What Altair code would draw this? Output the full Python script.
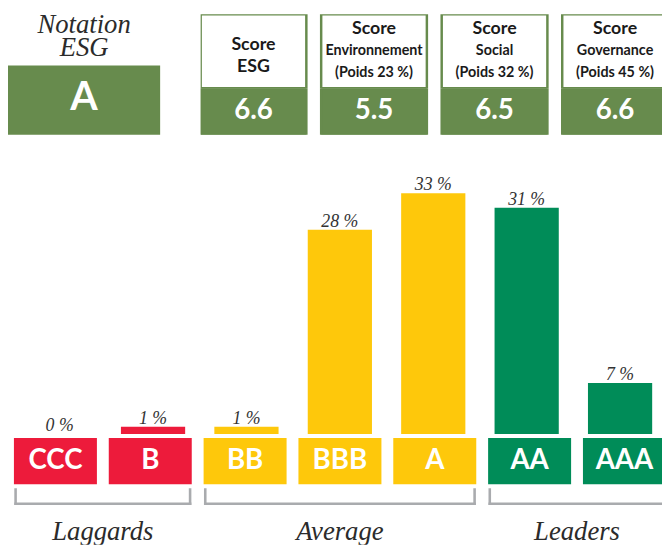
import altair as alt
import pandas as pd

# ---------------- data ----------------
categories = ["CCC", "B", "BB", "BBB", "A", "AA", "AAA"]
shares = [0, 1, 1, 28, 33, 31, 7]
category_group = ["Laggards", "Laggards", "Average", "Average", "Average", "Leaders", "Leaders"]
group_names = ["Laggards", "Average", "Leaders"]

rating_title = "Notation\nESG"
rating = "A"

score_keys = ["ESG", "E", "S", "G"]
score_lines = [
    ["Score", "ESG"],
    ["Score", "Environnement", "(Poids 23 %)"],
    ["Score", "Social", "(Poids 32 %)"],
    ["Score", "Governance", "(Poids 45 %)"],
]
score_big_lines = [2, 1, 1, 1]
score_values = ["6.6", "5.5", "6.5", "6.6"]

# ---------------- style ----------------
SERIF = "Liberation Serif"
SANS = "Lato"
HEADER_GREEN = "#678B4D"
group_colors = ["#ED1B3B", "#FEC80B", "#008C58"]
BRACKET_GREY = "#A9ABAE"
TEXT_DARK = "#2b2b2b"

# ---------------- tables ----------------
bars_df = pd.DataFrame({
    "cat": categories,
    "idx": list(range(len(categories))),
    "share": shares,
    "group": category_group,
    "label": [f"{s} %" for s in shares],
})

grp_rows = []
for g in group_names:
    ids = [i for i, c in enumerate(category_group) if c == g]
    grp_rows.append({"group": g, "first": min(ids), "last": max(ids)})
groups_df = pd.DataFrame(grp_rows)

line_rows = []
for key, lines, nbig in zip(score_keys, score_lines, score_big_lines):
    n = len(lines)
    for i, t in enumerate(lines):
        line_rows.append({"key": key, "text": t,
                          "pos": (n - 1) / 2 - i - (3 - n) * 0.2,
                          "big": i < nbig})
lines_df = pd.DataFrame(line_rows)
values_df = pd.DataFrame({"key": score_keys, "value": score_values})

# ---------------- header ----------------
rating_df = pd.DataFrame({"r": [rating], "t": [rating_title]})
notation_text = alt.Chart(rating_df).mark_text(
    font=SERIF, fontStyle="italic", fontSize=27, lineHeight=23, lineBreak="\n",
    color=TEXT_DARK, baseline="top",
).encode(text="t:N", y=alt.value(-2)).properties(width=154, height=52)

notation_box = alt.layer(
    alt.Chart(rating_df).mark_rect(fill=HEADER_GREEN).encode(color=alt.value(HEADER_GREEN)),
    alt.Chart(rating_df).mark_text(
        font=SANS, fontWeight="bold", fontSize=40, color="white", baseline="middle", dy=-2
    ).encode(text="r:N"),
).properties(width=154, height=70)

notation_col = alt.vconcat(notation_text, notation_box, spacing=0)

xs = alt.X("key:N", sort=score_keys, axis=None,
           scale=alt.Scale(domain=score_keys, range=[0, 473], paddingInner=0.123, paddingOuter=0))
ys = alt.Y("pos:Q", axis=None, scale=alt.Scale(domain=[-1.667, 1.667], nice=False, zero=False))

score_labels = alt.layer(
    alt.Chart(values_df).mark_rect(fill="white", stroke=HEADER_GREEN, strokeWidth=2.5, clip=True).encode(x=xs),
    alt.Chart(lines_df).transform_filter("datum.big").mark_text(
        font=SANS, fontWeight="bold", fontSize=18, color="#1a1a1a", baseline="middle", clip=True
    ).encode(x=xs, y=ys, text="text:N"),
    alt.Chart(lines_df).transform_filter("!datum.big").mark_text(
        font=SANS, fontWeight="bold", fontSize=14.5, color="#1a1a1a", baseline="middle", clip=True
    ).encode(x=xs, y=ys, text="text:N"),
).properties(width=467, height=75)

score_vals = alt.layer(
    alt.Chart(values_df).mark_rect(fill=HEADER_GREEN, stroke=HEADER_GREEN, strokeWidth=2.5, clip=True).encode(x=xs),
    alt.Chart(values_df).mark_text(
        font=SANS, fontWeight="bold", fontSize=28, color="white", baseline="middle", clip=True
    ).encode(x=xs, text="value:N"),
).properties(width=467, height=47)

scores_col = alt.vconcat(score_labels, score_vals, spacing=0)
header = alt.hconcat(notation_col, scores_col, spacing=41)

# ---------------- bottom ----------------
W = 662
xdom = alt.Scale(domain=[-0.5, 6.396], nice=False, zero=False)
xq = alt.X("idx:Q", axis=None, scale=xdom)
color = alt.Color("group:N", legend=None, scale=alt.Scale(domain=group_names, range=group_colors))

bars = alt.layer(
    alt.Chart(bars_df).mark_bar(size=65, orient="vertical", clip=True).encode(
        x=xq, y=alt.Y("share:Q", axis=None, scale=alt.Scale(domain=[0, 38.7], nice=False)),
        color=color),
    alt.Chart(bars_df).mark_text(
        font=SERIF, fontStyle="italic", fontSize=18, color="#333333", baseline="alphabetic", dy=-3
    ).encode(x=xq, y=alt.Y("share:Q"), text="label:N"),
).properties(width=W, height=286)

BOX_HALF = 0.4375
boxes = alt.layer(
    alt.Chart(bars_df).transform_calculate(
        x0=f"datum.idx - {BOX_HALF}", x1=f"datum.idx + {BOX_HALF}"
    ).mark_rect(clip=True).encode(x=alt.X("x0:Q", axis=None, scale=xdom), x2="x1:Q", color=color),
    alt.Chart(bars_df).mark_text(
        font=SANS, fontWeight="bold", fontSize=28, color="white", baseline="middle", clip=True
    ).encode(x=xq, text="cat:N"),
).properties(width=W, height=47)

BR_HALF = 0.42
gdf = alt.Chart(groups_df).transform_calculate(
    x0=f"datum.first - {BR_HALF}", x1=f"datum.last + {BR_HALF}",
    xm="(datum.first + datum.last) / 2",
)
rule_style = dict(color=BRACKET_GREY, strokeWidth=2.6, strokeCap="square", clip=True)
groups = alt.layer(
    gdf.mark_rule(**rule_style).encode(x=alt.X("x0:Q", axis=None, scale=xdom), x2="x1:Q", y=alt.value(19.5)),
    gdf.mark_rule(**rule_style).encode(x=alt.X("x0:Q", axis=None, scale=xdom), y=alt.value(5), y2=alt.value(19.5)),
    gdf.mark_rule(**rule_style).encode(x=alt.X("x1:Q", axis=None, scale=xdom), y=alt.value(5), y2=alt.value(19.5)),
    gdf.mark_text(font=SERIF, fontStyle="italic", fontSize=27, color=TEXT_DARK,
                  baseline="alphabetic", clip=True).encode(
        x=alt.X("xm:Q", axis=None, scale=xdom), y=alt.value(56), text="group:N"),
).properties(width=W, height=61)

bottom = alt.vconcat(bars, alt.vconcat(boxes, groups, spacing=0), spacing=3)

chart = alt.vconcat(header, bottom, spacing=17).properties(
    padding={"left": 0, "top": 0, "right": 0, "bottom": 0}
).configure_view(stroke=None)

chart.save("out.html", embed_options={"renderer": "svg", "actions": False})
